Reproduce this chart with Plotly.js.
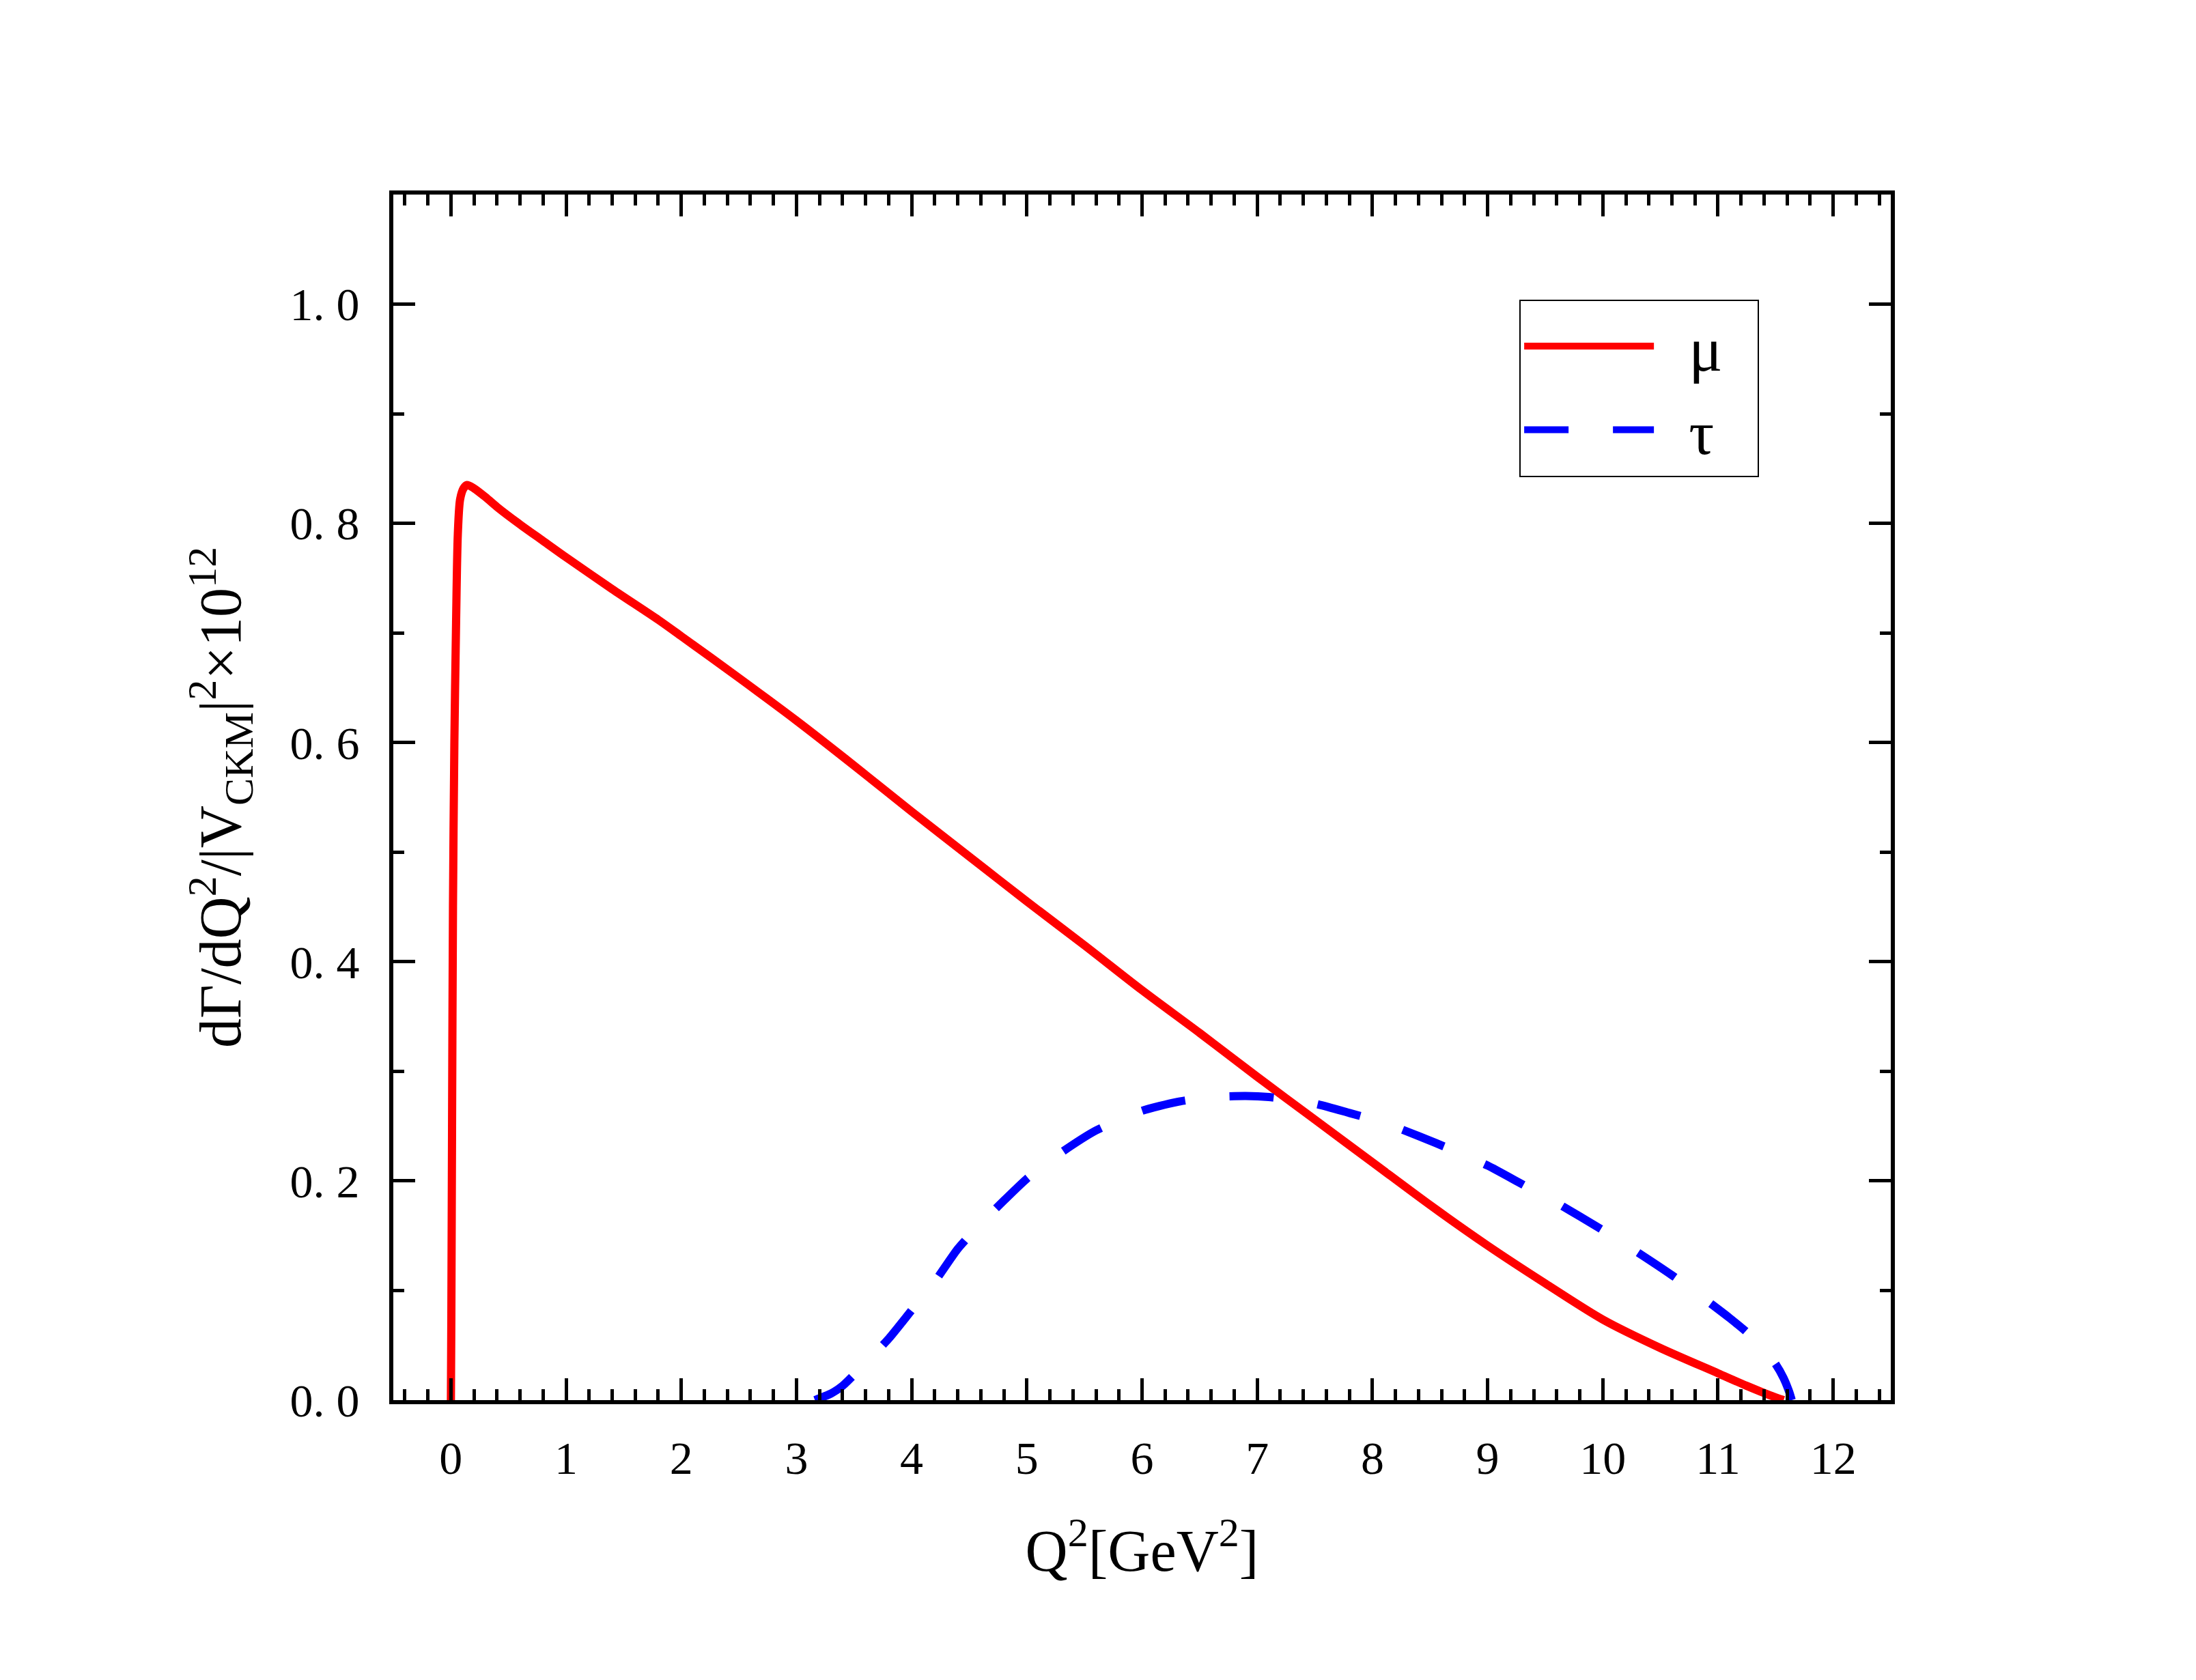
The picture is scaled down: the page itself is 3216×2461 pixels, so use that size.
<!DOCTYPE html>
<html>
<head>
<meta charset="utf-8">
<script src="https://cdn.plot.ly/plotly-3.0.1.min.js"></script>
<style>
  html, body { margin: 0; padding: 0; background: #fff; }
  #plot { width: 3216px; height: 2461px; }
</style>
</head>
<body>
<div id="plot"></div>
<script>
// mu channel
const muQ2 = [0, 0.004, 0.01, 0.018, 0.03, 0.045, 0.06, 0.08, 0.11, 0.14, 0.2, 0.3, 0.4, 0.6, 0.8,
  1.0, 1.4, 1.8, 2.0, 2.5, 3.0, 3.5, 4.0, 4.5, 5.0, 5.5, 6.0, 6.5, 7.0, 7.5, 8.0, 8.5, 9.0,
  9.5, 10.0, 10.5, 11.0, 11.25, 11.45, 11.57];
const muRate = [0, 0.08, 0.25, 0.45, 0.6, 0.71, 0.79, 0.822, 0.832, 0.835, 0.832, 0.824, 0.815, 0.799, 0.784,
  0.769, 0.740, 0.712, 0.697, 0.659, 0.620, 0.579, 0.537, 0.496, 0.455, 0.415, 0.374, 0.335, 0.295, 0.256, 0.217, 0.178, 0.141,
  0.1065, 0.0735, 0.0475, 0.0245, 0.013, 0.0045, 0.0];

// tau channel
const tauQ2 = [3.16, 3.3, 3.4, 3.6, 3.8, 4.0, 4.2, 4.4, 4.6, 4.8, 5.0, 5.3, 5.6, 6.0, 6.3, 6.6, 6.9, 7.1,
  7.5, 7.8, 8.1, 8.4, 8.7, 9.0, 9.3, 9.6, 10.0, 10.3, 10.6, 10.9, 11.1, 11.25, 11.4, 11.5, 11.57, 11.62, 11.64];
const tauRate = [0, 0.006, 0.013, 0.034, 0.056, 0.082, 0.108, 0.138, 0.161, 0.182, 0.202, 0.226, 0.246, 0.264, 0.272, 0.2765, 0.2775, 0.2765,
  0.2705, 0.262, 0.253, 0.241, 0.228, 0.214, 0.197, 0.180, 0.155, 0.135, 0.114, 0.091, 0.075, 0.062, 0.046, 0.033, 0.02, 0.007, 0];

const xTicks = [0, 1, 2, 3, 4, 5, 6, 7, 8, 9, 10, 11, 12];
const yTicks = [0, 0.2, 0.4, 0.6, 0.8, 1.0];
const yTickText = ['0. 0', '0. 2', '0. 4', '0. 6', '0. 8', '1. 0'];

const serif = 'Liberation Serif, Times New Roman, serif';
const pad = '\u00a0\u00a0';

var data = [
  {
    x: muQ2,
    y: muRate,
    name: pad + 'μ' + pad,
    type: 'scatter',
    mode: 'lines',
    line: { color: '#ff0000', width: 12, shape: 'spline', smoothing: 0.8 }
  },
  {
    x: tauQ2,
    y: tauRate,
    name: pad + 'τ' + pad,
    type: 'scatter',
    mode: 'lines',
    line: { color: '#0000ff', width: 12, dash: '65px,65px', shape: 'spline', smoothing: 0.6 }
  }
];

var axisCommon = {
  showgrid: false,
  zeroline: false,
  showline: true,
  linecolor: '#000',
  linewidth: 6,
  mirror: 'ticks',
  ticks: 'inside',
  ticklen: 32,
  tickwidth: 5,
  tickcolor: '#000',
  tickfont: { family: serif, size: 68, color: '#000' }
};

var layout = {
  width: 3216,
  height: 2461,
  paper_bgcolor: '#fff',
  plot_bgcolor: '#fff',
  margin: { l: 576, r: 447, t: 285, b: 410 },
  showlegend: true,
  legend: {
    x: 0.752, y: 0.913, xanchor: 'left', yanchor: 'top',
    bordercolor: '#000', borderwidth: 2, bgcolor: '#fff',
    itemwidth: 190,
    font: { family: serif, size: 92, color: '#000' }
  },
  xaxis: Object.assign({}, axisCommon, {
    range: [-0.5, 12.5],
    tickvals: xTicks,
    ticklabelstandoff: 20,
    minor: { dtick: 0.2, ticks: 'inside', ticklen: 16, tickwidth: 5, tickcolor: '#000' },
    title: { text: 'Q<sup>2</sup>[GeV<sup>2</sup>]', standoff: 70, font: { family: serif, size: 86, color: '#000' } }
  }),
  yaxis: Object.assign({}, axisCommon, {
    range: [0, 1.1],
    tickvals: yTicks,
    ticktext: yTickText,
    ticklabelstandoff: 30,
    minor: { dtick: 0.1, ticks: 'inside', ticklen: 16, tickwidth: 5, tickcolor: '#000' },
    title: { text: 'dΓ/dQ<sup>2</sup>/|V<sub>CKM</sub>|<sup>2</sup>×10<sup>12</sup>', standoff: 45, font: { family: serif, size: 86, color: '#000' } }
  })
};

Plotly.newPlot('plot', data, layout, { staticPlot: true });
</script>
</body>
</html>
